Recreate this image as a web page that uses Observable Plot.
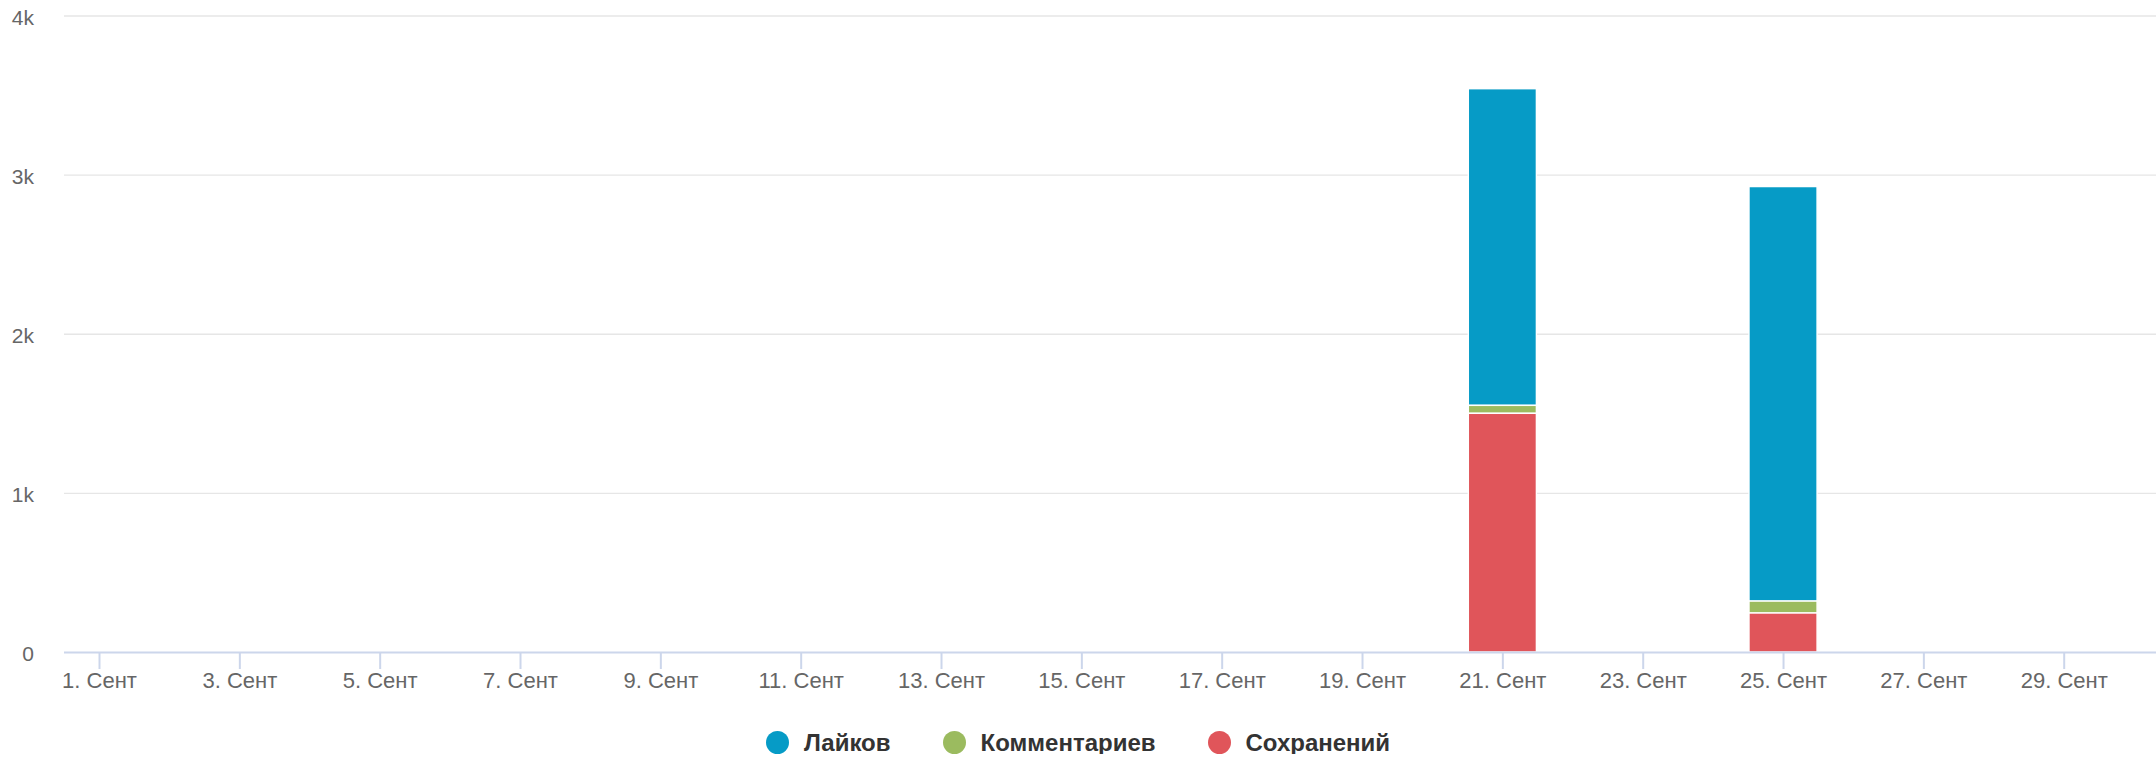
<!DOCTYPE html>
<html>
<head>
<meta charset="utf-8">
<script src="https://cdn.jsdelivr.net/npm/d3@7"></script>
<script src="https://cdn.jsdelivr.net/npm/@observablehq/plot@0.6"></script>
<style>
  html, body { margin: 0; padding: 0; background: #fff; overflow: hidden; }
  #chart svg { display: block; }
  .legend { display: flex; justify-content: center; align-items: center; height: 23px; margin-top: 23px;
    font-family: "Liberation Sans", Arial, sans-serif; font-weight: bold; font-size: 24px; color: #333; }
  .legend .item { display: flex; align-items: center; margin: 0 26px; }
  .legend .dot { width: 23px; height: 23px; border-radius: 50%; margin-right: 15px; }
</style>
</head>
<body>
<div id="chart"></div>
<div class="legend" id="legend"></div>
<script>
// ---- data ----
const allDays = [1,2,3,4,5,6,7,8,9,10,11,12,13,14,15,16,17,18,19,20,21,22,23,24,25,26,27,28,29,30];
const days = [21, 25];
const likes = [1990, 2605];
const comments = [50, 75];
const saves = [1500, 245];
const seriesNames = ["Лайков", "Комментариев", "Сохранений"];
const seriesColors = ["#069bc6", "#9bbb5f", "#e0555a"];
const xTickDays = [1,3,5,7,9,11,13,15,17,19,21,23,25,27,29];
const xTickSuffix = ". Сент";
const yTicks = [0, 1000, 2000, 3000, 4000];
const yTickLabels = ["0", "1k", "2k", "3k", "4k"];

// ---- table ----
const seriesValues = [likes, comments, saves];
const rows = [];
days.forEach((d, i) => {
  seriesNames.forEach((s, j) => rows.push({day: d, series: s, value: seriesValues[j][i]}));
});

const chart = Plot.plot({
  width: 2156,
  height: 708,
  marginLeft: 64,
  marginRight: 0,
  marginTop: 15.5,
  marginBottom: 56,
  style: {fontFamily: "'Liberation Sans', Arial, sans-serif", background: "#fff"},
  x: {type: "band", domain: allDays, range: [64.97, 2167.9], paddingInner: 0.03, paddingOuter: 0, round: false},
  y: {domain: [0, 4000]},
  color: {domain: seriesNames, range: seriesColors},
  marks: [
    Plot.ruleY(yTicks.filter(v => v > 0), {stroke: "#e6e6e6", strokeWidth: 1.4}),
    Plot.barY(rows, Plot.stackY({
      x: "day", y: "value", fill: "series",
      order: ["Сохранений", "Комментариев", "Лайков"],
      stroke: "white", strokeWidth: 1.4
    })),
    Plot.ruleY([0], {stroke: "#ccd6eb", strokeWidth: 2}),
    Plot.axisX({
      ticks: xTickDays,
      tickFormat: d => d + xTickSuffix,
      tickSize: 17, tickPadding: 3,
      stroke: "#ccd6eb", strokeWidth: 2,
      fill: "#666", fontSize: 22, label: null
    }),
    Plot.axisY({
      ticks: yTicks,
      tickFormat: v => yTickLabels[yTicks.indexOf(v)],
      tickSize: 0, tickPadding: 30.5,
      fill: "#666", fontSize: 21, dy: 2, label: null
    })
  ]
});
document.getElementById("chart").appendChild(chart);

const legend = document.getElementById("legend");
seriesNames.forEach((s, i) => {
  const item = document.createElement("div");
  item.className = "item";
  const dot = document.createElement("span");
  dot.className = "dot";
  dot.style.background = seriesColors[i];
  const txt = document.createElement("span");
  txt.textContent = s;
  item.appendChild(dot);
  item.appendChild(txt);
  legend.appendChild(item);
});
</script>
</body>
</html>
